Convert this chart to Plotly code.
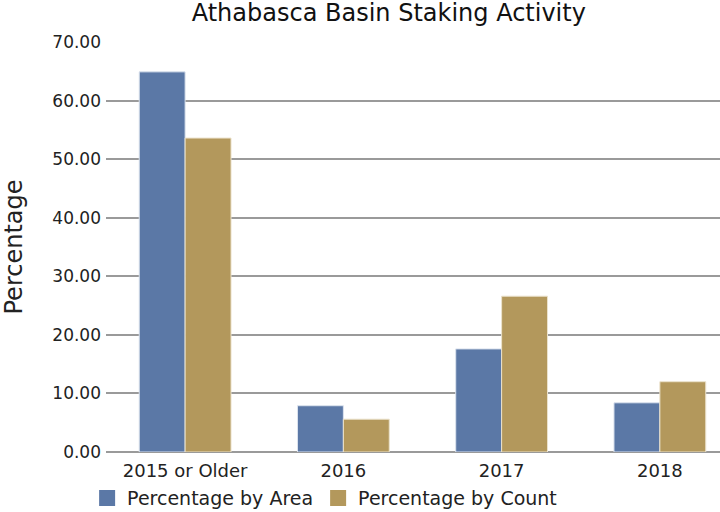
import plotly.graph_objects as go

categories = ["2015 or Older", "2016", "2017", "2018"]
area_values = [64.9, 7.9, 17.6, 8.4]
count_values = [53.6, 5.6, 26.6, 12.0]
y_ticks = [0, 10, 20, 30, 40, 50, 60, 70]
series_names = ["Percentage by Area", "Percentage by Count"]
series_colors = ["#5B78A6", "#B3985C"]
edge_colors = ["#DCE3EE", "#EBE2CC"]

FONT = "DejaVu Sans, Verdana, sans-serif"

fig = go.Figure()
for name, vals, col, edge in zip(series_names, [area_values, count_values], series_colors, edge_colors):
    fig.add_trace(go.Bar(name=name, x=categories, y=vals, showlegend=False,
                         marker=dict(color=col, line=dict(color=edge, width=1))))
# legend entries with larger square swatches
for name, col in zip(series_names, series_colors):
    fig.add_trace(go.Scatter(name=name, x=[None], y=[None], mode="markers",
                             marker=dict(symbol="square", size=17, color=col),
                             showlegend=True))

fig.update_layout(
    width=720, height=512,
    paper_bgcolor="white", plot_bgcolor="white",
    margin=dict(l=106, r=0, t=42, b=60, autoexpand=False),
    barmode="group", bargap=0.42, bargroupgap=0,
    font=dict(family=FONT, color="#222", size=17),
    title=dict(text="Athabasca Basin Staking Activity", x=0.54, xanchor="center",
               y=0.975, yanchor="middle", font=dict(size=24, color="#111")),
    legend=dict(orientation="h", xref="container", x=0.121, xanchor="left",
                yref="container", y=0.027, yanchor="middle", font=dict(size=19),
                itemwidth=30, traceorder="normal", tracegroupgap=0),
    showlegend=True,
)
fig.update_xaxes(type="category", range=[-0.5, 3.38], showgrid=False, showline=False,
                 ticks="", tickfont=dict(size=18), automargin=False, ticklabelstandoff=6)
fig.update_yaxes(range=[0, 70], tickvals=y_ticks, tickformat=".2f",
                 showgrid=True, gridcolor="#9A9A9A", gridwidth=2,
                 zeroline=True, zerolinecolor="#9A9A9A", zerolinewidth=2,
                 ticks="", ticklen=0, tickfont=dict(size=17), automargin=False,
                 ticklabelstandoff=4,
                 title=dict(text="Percentage", font=dict(size=24), standoff=22))

fig.write_html("out.html", config={"displayModeBar": False},
               post_script="document.body.style.margin='0';")
